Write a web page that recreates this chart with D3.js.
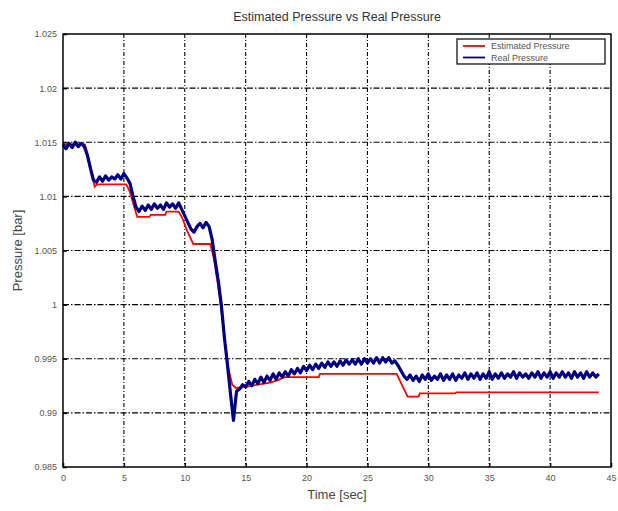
<!DOCTYPE html>
<html>
<head>
<meta charset="utf-8">
<script src="https://cdn.jsdelivr.net/npm/d3@7"></script>
<style>
  body { margin: 0; background: #fff; }
  svg text { font-family: "Liberation Sans", Arial, sans-serif; }
</style>
</head>
<body>
<div id="chart"></div>
<script>
// afmetingen van de figuur en het plotvlak
const width = 618;
const height = 511;
const margin = {top: 34, right: 7, bottom: 44, left: 63};

// tick labels zoals in het origineel
const xTicks = [0, 5, 10, 15, 20, 25, 30, 35, 40, 45];
const yTicks = [0.985, 0.99, 0.995, 1, 1.005, 1.01, 1.015, 1.02, 1.025];
const yTickLabels = ["0.985", "0.99", "0.995", "1", "1.005", "1.01", "1.015", "1.02", "1.025"];

// gemeten druk, elke 0.25 s een sample
const sampleStep = 0.25;
const realPressure = [
  1.0148, 1.0144, 1.0149, 1.0145, 1.0150, 1.0146, 1.0149, 1.0146,
  1.0138, 1.0126, 1.0115,
  1.0113, 1.0118, 1.0114, 1.0119, 1.0115, 1.0118, 1.0116, 1.0120, 1.0116, 1.0121, 1.0117,
  1.0112, 1.0100, 1.0090, 1.0086,
  1.0091, 1.0087, 1.0092, 1.0088, 1.0093, 1.0089, 1.0092, 1.0088, 1.0094, 1.0090, 1.0093, 1.0089, 1.0094,
  1.0088, 1.0082, 1.0076, 1.0070, 1.0067,
  1.0072, 1.0075, 1.0071, 1.0076, 1.0072,
  1.0060, 1.0040, 1.0022, 1.0000, 0.9970, 0.9945, 0.9918, 0.9893, 0.9920, 0.9922, 0.9926,
  0.9924, 0.9929, 0.9925, 0.9931, 0.9927, 0.9933, 0.9928, 0.9934, 0.9930, 0.9936,
  0.9931, 0.9937, 0.9933, 0.9938, 0.9934, 0.9940, 0.9936, 0.9941, 0.9937, 0.9943,
  0.9939, 0.9944, 0.9940, 0.9945, 0.9941, 0.9946, 0.9942, 0.9947, 0.9943, 0.9947,
  0.9943, 0.9948, 0.9944, 0.9949, 0.9945, 0.9949, 0.9945, 0.9950, 0.9945, 0.9950,
  0.9946, 0.9950, 0.9946, 0.9951, 0.9946, 0.9951, 0.9947, 0.9951, 0.9946, 0.9948,
  0.9944, 0.9939, 0.9934, 0.9931,
  0.9935, 0.9930, 0.9934, 0.9929, 0.9935, 0.9931, 0.9936, 0.9930, 0.9934, 0.9931,
  0.9936, 0.9930, 0.9935, 0.9931, 0.9936, 0.9930, 0.9935, 0.9932, 0.9937, 0.9931,
  0.9936, 0.9932, 0.9937, 0.9931, 0.9936, 0.9932, 0.9938, 0.9931, 0.9936, 0.9932,
  0.9937, 0.9932, 0.9936, 0.9933, 0.9938, 0.9932, 0.9937, 0.9933, 0.9936, 0.9932,
  0.9937, 0.9933, 0.9938, 0.9932, 0.9937, 0.9933, 0.9938, 0.9932, 0.9937, 0.9933,
  0.9938, 0.9933, 0.9937, 0.9932, 0.9938, 0.9933, 0.9937, 0.9932, 0.9938, 0.9933,
  0.9937, 0.9933, 0.9936
];

// geschatte druk: tijden en waarden (trapvormig verloop)
const estTime = [0, 1.8, 2.0, 2.3, 2.6, 2.8, 5.2, 5.5, 5.8, 6.1, 7.1, 7.2, 8.4, 8.5, 9.5, 9.8,
  10.2, 10.7, 12.1, 12.4, 12.7, 13.0, 13.3, 13.6, 13.9, 14.2, 15, 16, 17, 17.6, 18.2,
  21.0, 21.1, 27.4, 28.3, 29.2, 29.3, 32.2, 32.3, 44.0];
const estPressure = [1.0148, 1.0148, 1.0140, 1.0125, 1.0109, 1.0111, 1.0111, 1.0104, 1.0092, 1.0081,
  1.0081, 1.0083, 1.0083, 1.0086, 1.0086, 1.0080, 1.0068, 1.0056, 1.0056, 1.0042, 1.0020,
  0.9995, 0.9965, 0.9940, 0.9926, 0.9923, 0.9924, 0.9926, 0.9928, 0.9930, 0.9933,
  0.9933, 0.9936, 0.9936, 0.9915, 0.9915, 0.9918, 0.9918, 0.9919, 0.9919];

const legendNames = ["Estimated Pressure", "Real Pressure"];
const lineColors = ["#ff0000", "#000080"];

const innerW = width - margin.left - margin.right;
const innerH = height - margin.top - margin.bottom;

var svg = d3.select("#chart")
    .append("svg")
    .attr("width", width)
    .attr("height", height);

var g = svg.append("g")
    .attr("transform", "translate(" + margin.left + "," + margin.top + ")");

// schalen
var xScale = d3.scaleLinear().domain([0, 45]).range([0, innerW]);
var yScale = d3.scaleLinear().domain([0.985, 1.025]).range([innerH, 0]);

// rasterlijnen (streep-punt)
g.append("g")
    .attr("class", "grid")
    .selectAll("line.gx")
    .data(xTicks.slice(1, -1))
    .enter().append("line")
    .attr("x1", d => xScale(d)).attr("x2", d => xScale(d))
    .attr("y1", 0).attr("y2", innerH)
    .attr("stroke", "#000")
    .attr("stroke-width", 1.1)
    .attr("stroke-dasharray", "4,2,1,2");

g.append("g")
    .attr("class", "grid")
    .selectAll("line.gy")
    .data(yTicks.slice(1, -1))
    .enter().append("line")
    .attr("x1", 0).attr("x2", innerW)
    .attr("y1", d => yScale(d)).attr("y2", d => yScale(d))
    .attr("stroke", "#000")
    .attr("stroke-width", 1.1)
    .attr("stroke-dasharray", "6,2,1.5,2");

// assen met ticks naar binnen
var xAxis = g.append("g")
    .attr("transform", "translate(0," + innerH + ")")
    .call(d3.axisBottom(xScale).tickValues(xTicks).tickSizeInner(-4).tickSizeOuter(0).tickPadding(8));
var yAxis = g.append("g")
    .call(d3.axisLeft(yScale).tickValues(yTicks).tickFormat((d, i) => yTickLabels[i])
      .tickSizeInner(-4).tickSizeOuter(0).tickPadding(6));

[xAxis, yAxis].forEach(function(a) {
  a.select(".domain").remove();
  a.selectAll("line").attr("stroke", "#000").attr("stroke-width", 1.5);
  a.selectAll("text").attr("fill", "#555").style("font-size", "9px");
});

// lijnen tekenen
var line = d3.line()
    .x(d => xScale(d[0]))
    .y(d => yScale(d[1]));

var estData = estTime.map((t, i) => [t, estPressure[i]]);
var realData = realPressure.map((v, i) => [i * sampleStep, v]);

g.append("path")
    .datum(estData)
    .attr("fill", "none")
    .attr("stroke", lineColors[0])
    .attr("stroke-width", 1.8)
    .attr("d", line);

g.append("path")
    .datum(realData)
    .attr("fill", "none")
    .attr("stroke", lineColors[1])
    .attr("stroke-width", 3.2)
    .attr("stroke-linejoin", "round")
    .attr("d", line);

// kader om het plotvlak
g.append("rect")
    .attr("width", innerW).attr("height", innerH)
    .attr("fill", "none")
    .attr("stroke", "#000")
    .attr("stroke-width", 1.5);

// legenda
var legend = g.append("g")
    .attr("transform", "translate(" + (innerW - 154) + ",5)");
legend.append("rect")
    .attr("width", 148).attr("height", 25)
    .attr("fill", "#fff")
    .attr("stroke", "#000")
    .attr("stroke-width", 1.2);
legendNames.forEach(function(name, i) {
  legend.append("line")
      .attr("x1", 6).attr("x2", 28)
      .attr("y1", 7 + i * 11.5).attr("y2", 7 + i * 11.5)
      .attr("stroke", lineColors[i])
      .attr("stroke-width", 1.8);
  legend.append("text")
      .attr("x", 34).attr("y", 10 + i * 11.5)
      .attr("fill", "#555")
      .style("font-size", "9px")
      .text(name);
});

// titel en aslabels
svg.append("text")
    .attr("x", margin.left + innerW / 2).attr("y", 21)
    .attr("text-anchor", "middle")
    .attr("fill", "#333")
    .style("font-size", "12.5px")
    .text("Estimated Pressure vs Real Pressure");

svg.append("text")
    .attr("x", margin.left + innerW / 2).attr("y", 499)
    .attr("text-anchor", "middle")
    .attr("fill", "#444")
    .style("font-size", "13px")
    .text("Time [sec]");

svg.append("text")
    .attr("transform", "translate(22," + (margin.top + innerH / 2) + ") rotate(-90)")
    .attr("text-anchor", "middle")
    .attr("fill", "#444")
    .style("font-size", "13px")
    .text("Pressure [bar]");
</script>
</body>
</html>
